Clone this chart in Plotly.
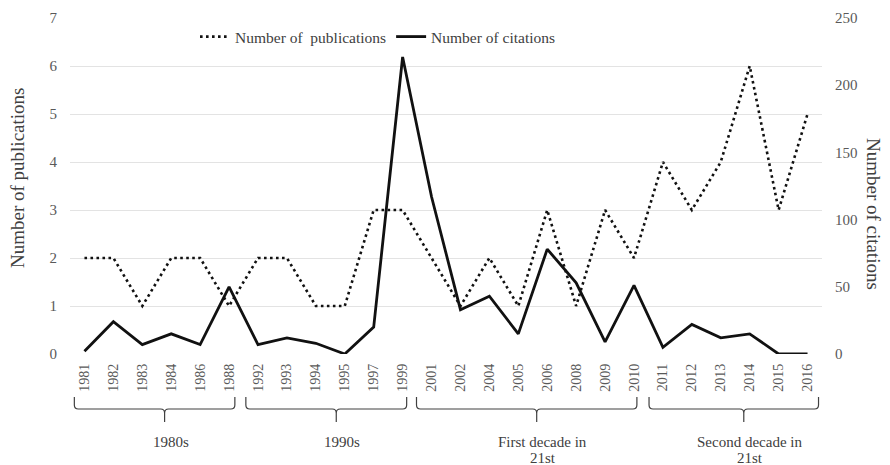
import plotly.graph_objects as go

years = ["1981", "1982", "1983", "1984", "1986", "1988",
         "1992", "1993", "1994", "1995", "1997", "1999",
         "2001", "2002", "2004", "2005", "2006", "2008", "2009", "2010",
         "2011", "2012", "2013", "2014", "2015", "2016"]
publications = [2, 2, 1, 2, 2, 1,
                2, 2, 1, 1, 3, 3,
                2, 1, 2, 1, 3, 1, 3, 2,
                4, 3, 4, 6, 3, 5]
citations = [2, 24, 7, 15, 7, 50,
             7, 12, 8, 0, 20, 221,
             117, 33, 43, 15, 78, 53, 9, 51,
             5, 22, 12, 15, 0, 0]
groups = ["1980s", "1990s", "First decade in<br>21st", "Second decade in<br>21st"]
group_first = ["1981", "1992", "2001", "2011"]
group_last = ["1988", "1999", "2010", "2016"]

# layout geometry: page pixels; the page body has an 8px margin
OFF = 8
W, H = 890 - OFF, 465 - OFF
ML, MR, MT, MB = 70 - OFF, 68, 18 - OFF, 111
PW, PH = W - ML - MR, H - MT - MB
N = len(years)

def px2x(px):
    return (px - OFF - ML) / PW

def py2y(py):
    return (H - MB - (py - OFF)) / PH

def idx2px(i):
    return OFF + ML + (i + 0.5) * PW / N

serif = '"Liberation Serif", "Times New Roman", Times, serif'
ink = "#404040"

fig = go.Figure()
fig.add_trace(go.Scatter(x=years, y=publications, mode="lines",
                         name="Number of\u00a0 publications",
                         line=dict(color="#111111", width=2.6, dash="2.6px,3.4px")))
fig.add_trace(go.Scatter(x=years, y=citations, mode="lines",
                         name="Number of citations", yaxis="y2",
                         line=dict(color="#111111", width=2.8)))

shapes = []
annotations = []
# brace span offsets (in category units)
span_off = [(-0.35, 0.2), (-0.42, 0.14), (-0.52, 0.1), (-0.48, 0.38)]
ytop, yh, ybot = 397, 409, 422
r = 4
for g, f, l, (a, b) in zip(groups, group_first, group_last, span_off):
    i0, i1 = years.index(f), years.index(l)
    xl = idx2px(i0 + a)
    xr = idx2px(i1 + b)
    xs = (xl + xr) / 2 + 10
    P = lambda px, py: f"{px2x(px):.5f},{py2y(py):.5f}"
    path = (f"M {P(xl, ytop)} L {P(xl, yh - r)} Q {P(xl, yh)} {P(xl + r, yh)} "
            f"L {P(xs - r, yh)} Q {P(xs, yh)} {P(xs, yh + r)} L {P(xs, ybot)} "
            f"M {P(xs, yh + r)} Q {P(xs, yh)} {P(xs + r, yh)} "
            f"L {P(xr - r, yh)} Q {P(xr, yh)} {P(xr, yh - r)} L {P(xr, ytop)}")
    shapes.append(dict(type="path", xref="paper", yref="paper", path=path,
                       line=dict(color=ink, width=1.2)))
    for k, line_txt in enumerate(g.split("<br>")):
        annotations.append(dict(x=px2x(xs + 6), y=py2y(442 + 16 * k),
                                xref="paper", yref="paper",
                                text=line_txt, showarrow=False,
                                xanchor="center", yanchor="middle",
                                font=dict(family=serif, size=15, color=ink)))

annotations.append(dict(x=px2x(17), y=py2y(178), xref="paper", yref="paper",
                        text="Number of publications", textangle=-90, showarrow=False,
                        xanchor="center", yanchor="middle",
                        font=dict(family=serif, size=19, color=ink)))
annotations.append(dict(x=px2x(873), y=py2y(214), xref="paper", yref="paper",
                        text="Number of citations", textangle=90, showarrow=False,
                        xanchor="center", yanchor="middle",
                        font=dict(family=serif, size=19, color=ink)))

fig.update_layout(
    width=W, height=H,
    margin=dict(l=ML, r=MR, t=MT, b=MB, autoexpand=False),
    paper_bgcolor="white", plot_bgcolor="white",
    font=dict(family=serif, color="#595959"),
    showlegend=True,
    legend=dict(orientation="h", x=px2x(378), xanchor="center",
                y=py2y(37), yanchor="middle",
                font=dict(family=serif, size=15.5, color=ink),
                bgcolor="rgba(0,0,0,0)", itemwidth=30),
    xaxis=dict(type="category", range=[-0.5, N - 0.5], tickangle=-90,
               showgrid=False, zeroline=False,
               showline=False, ticks="", ticklabelstandoff=6, automargin=False,
               tickfont=dict(family=serif, size=14, color="#595959")),
    yaxis=dict(range=[0, 7], dtick=1, showgrid=True, gridcolor="#e3e3e3",
               gridwidth=1, zeroline=False, showline=False, ticks="",
               ticklabelstandoff=12, automargin=False,
               tickfont=dict(family=serif, size=15, color="#595959")),
    yaxis2=dict(range=[0, 250], dtick=50, overlaying="y", side="right",
                showgrid=False, zeroline=False, showline=False, ticks="",
                ticklabelstandoff=12, automargin=False,
                tickfont=dict(family=serif, size=15, color="#595959")),
    shapes=shapes,
    annotations=annotations,
)

fig.write_html("out.html")
